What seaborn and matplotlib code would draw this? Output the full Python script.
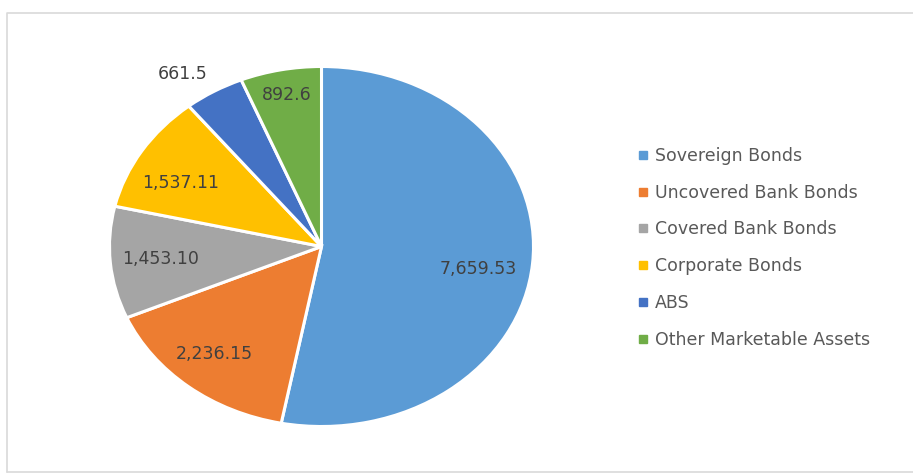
import numpy as np
import matplotlib
matplotlib.use("Agg")
import matplotlib.pyplot as plt
import seaborn as sns
from matplotlib.lines import Line2D

sns.set_theme(style="white")
plt.rcParams["font.family"] = ["DejaVu Sans"]

categories = ["Sovereign Bonds", "Uncovered Bank Bonds", "Covered Bank Bonds",
              "Corporate Bonds", "ABS", "Other Marketable Assets"]
values = [7659.53, 2236.15, 1453.10, 1537.11, 661.5, 892.6]
value_labels = ["7,659.53", "2,236.15", "1,453.10", "1,537.11", "661.5", "892.6"]

colors = ["#5B9BD5", "#ED7D31", "#A5A5A5", "#FFC000", "#4472C4", "#70AD47"]
# data-label placement: fraction of the radius and angular nudge (degrees)
label_radius = [0.75, 0.78, 0.76, 0.755, 1.16, 0.86]
label_nudge = [-4, -1.5, 0, 4, 4, 0]
label_color = "#404040"

W, H = 913, 474
fig = plt.figure(figsize=(W / 100, H / 100), dpi=100)
fig.patch.set_facecolor("white")

# chart-area frame
frame = fig.add_axes([0, 0, 1, 1])
frame.set_xlim(0, W)
frame.set_ylim(H, 0)
frame.axis("off")
frame.plot([6.5, 6.5, W + 5], [472, 12.5, 12.5], color="#D9D9D9", lw=1.2)
frame.plot([6.5, W + 5], [472, 472], color="#D9D9D9", lw=1.2)

# pie drawn in an elliptical box
cx, cy, rx, ry = 321.5, 246.5, 212, 180
ax = fig.add_axes([(cx - rx) / W, 1 - (cy + ry) / H, 2 * rx / W, 2 * ry / H])
wedges, _ = ax.pie(values, colors=colors, startangle=90, counterclock=False,
                   wedgeprops=dict(edgecolor="white", linewidth=2.2))
ax.set_aspect("auto")
ax.set_xlim(-1, 1)
ax.set_ylim(-1, 1)
ax.axis("off")

for w, txt, r, d in zip(wedges, value_labels, label_radius, label_nudge):
    mid = np.deg2rad((w.theta1 + w.theta2) / 2 + d)
    ax.text(r * np.cos(mid), r * np.sin(mid), txt, ha="center", va="center",
            fontsize=12.5, color=label_color)

handles = [Line2D([0], [0], marker="s", linestyle="none", markersize=5.5,
                  markerfacecolor=c, markeredgecolor=c) for c in colors]
fig.legend(handles, categories, loc="upper left",
           bbox_to_anchor=(631 / W, 1 - 140 / H), frameon=False,
           fontsize=12.5, labelcolor="#595959", handlelength=0.6,
           handletextpad=0.4, labelspacing=1.08, borderaxespad=0)

fig.savefig("out.png", dpi=100, facecolor="white")
